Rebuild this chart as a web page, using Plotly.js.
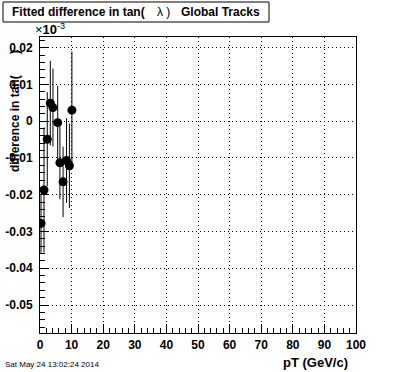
<!DOCTYPE html>
<html>
<head>
<meta charset="utf-8">
<script src="https://cdn.plot.ly/plotly-3.0.1.min.js"></script>
<style>
html,body{margin:0;padding:0;background:#fff;}
#chart{width:396px;height:372px;}
</style>
</head>
<body>
<div id="chart"></div>
<script>
// Data
const pT      = [0.32, 1.27, 2.3, 3.26, 4.1, 5.6, 6.3, 7.3, 8.4, 9.3, 10.1];
const diffTan = [-0.0278, -0.0187, -0.0049, 0.0049, 0.0037, -0.0004, -0.0113, -0.0165, -0.0107, -0.0121, 0.0030];
const diffErr = [0.008, 0.017, 0.0128, 0.0115, 0.0106, 0.010, 0.0099, 0.0096, 0.0115, 0.0115, 0.016];

const xTickVals = [0, 10, 20, 30, 40, 50, 60, 70, 80, 90, 100];
const xTickText = ["0", "10", "20", "30", "40", "50", "60", "70", "80", "90", "100"];
const yTickVals = [0.02, 0.01, 0, -0.01, -0.02, -0.03, -0.04, -0.05];
const yTickText = ["0.02", "0.01", "0", "-0.01", "-0.02", "-0.03", "-0.04", "-0.05"];

// plot area in pixels
const W = 396, H = 372, L = 40, R = 40, T = 37, B = 39;
const pw = W - L - R, ph = H - T - B;
const px = x => (x - L) / pw;
const py = y => (H - B - y) / ph;

const FONT = "Liberation Sans, Arial, Helvetica, sans-serif";

const trace = {
  type: 'scatter',
  mode: 'markers',
  x: pT,
  y: diffTan,
  error_y: {type: 'data', array: diffErr, visible: true, color: 'black', thickness: 1, width: 0},
  marker: {color: 'black', size: 9, symbol: 'circle'},
  showlegend: false,
  hoverinfo: 'x+y'
};

const axisCommon = {
  showline: true, linecolor: 'black', linewidth: 1, mirror: true,
  ticks: 'inside', tickcolor: 'black', ticklen: 9, tickwidth: 1,
  showgrid: true, gridcolor: 'black', gridwidth: 1, griddash: '1px,3px',
  zeroline: false,
  tickfont: {family: FONT, size: 12, color: 'black', weight: 'bold'}
};

const layout = {
  width: W, height: H,
  margin: {l: L, r: R, t: T, b: B, pad: 0},
  paper_bgcolor: 'white', plot_bgcolor: 'white',
  xaxis: Object.assign({}, axisCommon, {
    range: [0, 100], tickmode: 'array', tickvals: xTickVals, ticktext: xTickText,
    ticklabelstandoff: 1,
    minor: {dtick: 2, tick0: 0, ticks: 'inside', ticklen: 5, tickcolor: 'black', showgrid: false}
  }),
  yaxis: Object.assign({}, axisCommon, {
    range: [-0.0576, 0.0229], tickmode: 'array', tickvals: yTickVals, ticktext: yTickText,
    ticklabelstandoff: 4,
    minor: {dtick: 0.002, tick0: 0, ticks: 'inside', ticklen: 5, tickcolor: 'black', showgrid: false}
  }),
  shapes: [
    {type: 'rect', xref: 'paper', yref: 'paper', x0: px(3), x1: px(269), y0: py(22), y1: py(2),
     line: {color: 'black', width: 1}, fillcolor: 'white', layer: 'above'}
  ],
  annotations: [
    {xref: 'paper', yref: 'paper', x: px(10), y: py(12), xanchor: 'left', yanchor: 'middle', showarrow: false,
     text: 'Fitted difference in tan(', font: {family: FONT, size: 12, color: 'black', weight: 'bold'}},
    {xref: 'paper', yref: 'paper', x: px(155), y: py(12), xanchor: 'left', yanchor: 'middle', showarrow: false,
     text: 'λ )', font: {family: FONT, size: 12, color: 'black'}},
    {xref: 'paper', yref: 'paper', x: px(179), y: py(12), xanchor: 'left', yanchor: 'middle', showarrow: false,
     text: 'Global Tracks', font: {family: FONT, size: 12, color: 'black', weight: 'bold'}},
    {xref: 'paper', yref: 'paper', x: px(33), y: py(29), xanchor: 'left', yanchor: 'middle', showarrow: false,
     text: '×<b>10</b><sup>-3</sup>', font: {family: FONT, size: 13, color: 'black'}},
    {xref: 'paper', yref: 'paper', x: px(15), y: py(124), xanchor: 'center', yanchor: 'middle', showarrow: false,
     textangle: -90, text: 'difference in tan(', font: {family: FONT, size: 12, color: 'black', weight: 'bold'}},
    {xref: 'paper', yref: 'paper', x: px(15), y: py(52), xanchor: 'center', yanchor: 'middle', showarrow: false,
     textangle: -90, text: ')', font: {family: FONT, size: 12, color: 'black', weight: 'bold'}},
    {xref: 'paper', yref: 'paper', x: px(350), y: py(362), xanchor: 'right', yanchor: 'middle', showarrow: false,
     text: 'pT (GeV/c)', font: {family: FONT, size: 13, color: 'black', weight: 'bold'}},
    {xref: 'paper', yref: 'paper', x: px(3), y: py(364), xanchor: 'left', yanchor: 'middle', showarrow: false,
     text: 'Sat May 24 13:02:24 2014', font: {family: FONT, size: 8, color: 'black'}}
  ]
};

Plotly.newPlot('chart', [trace], layout, {displayModeBar: false, staticPlot: true});
</script>
</body>
</html>
